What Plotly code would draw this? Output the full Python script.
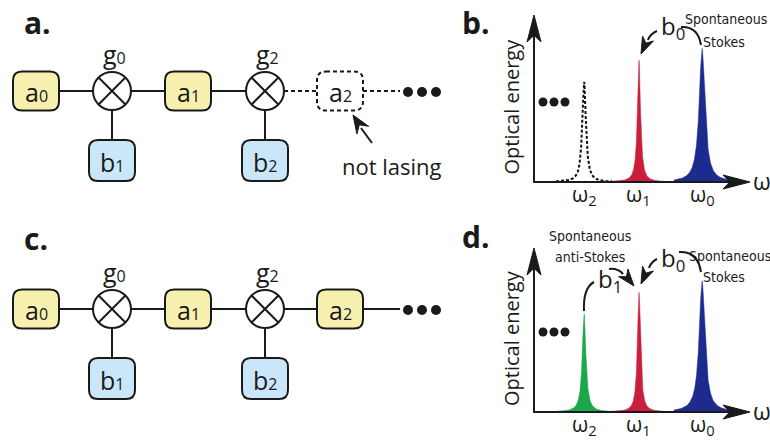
import numpy as np
import plotly.graph_objects as go

W, H = 770, 441

# ---------------- data ----------------
panel_labels = ["a.", "b.", "c.", "d."]
optical_idx = ["0", "1", "2"]          # a0, a1, a2
phonon_idx = ["1", "2"]                # b1, b2
coupling_idx = ["0", "2"]              # g0, g2
freq_sub = ["2", "1", "0"]             # omega subscripts, left to right
freq_pos = [0.232, 0.486, 0.778]       # position along frequency axis (fraction)
height_b = [0.60, 0.73, 0.80]          # panel b peak heights (fraction of axis)
height_d = [0.60, 0.73, 0.80]          # panel d peak heights
peak_hwhm = [0.010, 0.0085, 0.016]     # half widths
colors_b = ["#111111", "#c91f3d", "#1d2a8e"]
colors_d = ["#1ba84b", "#c91f3d", "#1d2a8e"]

# ---------------- styling / geometry ----------------
FONT = "Open Sans, Noto Sans, sans-serif"
NARROW = "Liberation Sans Narrow, DejaVu Sans Condensed, Roboto Condensed, sans-serif"
INK = "#1a1a1a"
YEL = "#f7f0ae"
BLU = "#c9e7f8"
LW = 2

box_cx = [36, 188, 340]
circ_cx = [112, 265]
BW, BH = 46, 39
BBH = 41
R = 19
ax_x0, ax_x1 = 534, 750
panels = {"b": (182, 15), "d": (412, 248)}   # baseline y, arrow tip y (pixels)

fig = go.Figure()
shapes = []
ann = []


def rrect(x0, y0, x1, y1, r=8):
    return (f"M{x0+r},{y0} L{x1-r},{y0} Q{x1},{y0} {x1},{y0+r} L{x1},{y1-r} "
            f"Q{x1},{y1} {x1-r},{y1} L{x0+r},{y1} Q{x0},{y1} {x0},{y1-r} "
            f"L{x0},{y0+r} Q{x0},{y0} {x0+r},{y0} Z")


def head(tx, ty, dx, dy, L=14, w=6, notch=0.7):
    n = np.hypot(dx, dy)
    dx, dy = dx / n, dy / n
    nx, ny = -dy, dx
    bx, by = tx - L * dx, ty - L * dy
    mx, my = tx - notch * L * dx, ty - notch * L * dy
    p = (f"M{tx},{ty} L{bx + w*nx},{by + w*ny} L{mx},{my} "
         f"L{bx - w*nx},{by - w*ny} Z")
    shapes.append(dict(type="path", path=p, xref="x", yref="y",
                       fillcolor=INK, line=dict(color=INK, width=1)))


def line(x0, y0, x1, y1, dash="solid", width=LW):
    shapes.append(dict(type="line", x0=x0, y0=y0, x1=x1, y1=y1, xref="x", yref="y",
                       line=dict(color=INK, width=width, dash=dash)))


def curve(p, width=LW):
    shapes.append(dict(type="path", path=p, xref="x", yref="y",
                       line=dict(color=INK, width=width)))


def text(x, y, s, size, font=FONT, xanchor="center", yanchor="middle", angle=0):
    ann.append(dict(x=x, y=y, xref="x", yref="y", text=s, showarrow=False,
                    xanchor=xanchor, yanchor=yanchor, textangle=angle,
                    font=dict(family=font, size=size, color=INK)))


def chain(yc, lasing):
    yb = yc + 69.5
    # connectors
    line(box_cx[0] + BW / 2, yc, circ_cx[0] - R, yc)
    line(circ_cx[0] + R, yc, box_cx[1] - BW / 2, yc)
    line(box_cx[1] + BW / 2, yc, circ_cx[1] - R, yc)
    d = "solid" if lasing else "4px,3px"
    line(circ_cx[1] + R, yc, box_cx[2] - BW / 2, yc, dash=d)
    line(box_cx[2] + BW / 2, yc, 400, yc, dash=d)
    for cx in circ_cx:
        line(cx, yc + R, cx, yb - BBH / 2)
    # optical mode boxes
    for i, cx in enumerate(box_cx):
        dashed = (i == 2 and not lasing)
        shapes.append(dict(type="path", xref="x", yref="y",
                           path=rrect(cx - BW / 2, yc - BH / 2, cx + BW / 2, yc + BH / 2, 9),
                           fillcolor="white" if dashed else YEL,
                           line=dict(color=INK, width=LW, dash="4px,3px" if dashed else "solid")))
        text(cx, yc + 1, f"a<span style='font-size:16px'>{optical_idx[i]}</span>", 25)
    # coupling circles
    for j, cx in enumerate(circ_cx):
        shapes.append(dict(type="circle", xref="x", yref="y", x0=cx - R, x1=cx + R,
                           y0=yc - R, y1=yc + R, fillcolor="white",
                           line=dict(color=INK, width=LW)))
        k = R * 0.707
        line(cx - k, yc - k, cx + k, yc + k)
        line(cx - k, yc + k, cx + k, yc - k)
        text(cx + 2, yc - 37, f"g<span style='font-size:16px'>{coupling_idx[j]}</span>", 25)
        # phonon boxes
        shapes.append(dict(type="path", xref="x", yref="y",
                           path=rrect(cx - BW / 2, yb - BBH / 2, cx + BW / 2, yb + BBH / 2, 9),
                           fillcolor=BLU, line=dict(color=INK, width=LW)))
        text(cx, yb + 1, f"b<span style='font-size:16px'>{phonon_idx[j]}</span>", 25)
    fig.add_trace(go.Scatter(x=[408, 422, 436], y=[yc + 1] * 3, mode="markers",
                             marker=dict(size=10, color=INK), xaxis="x", yaxis="y",
                             hoverinfo="skip", showlegend=False))


# ---- panels a and c ----
chain(91, lasing=False)
chain(309, lasing=True)
text(22, 22, "<b>a.</b>", 30, xanchor="left")
text(22, 238, "<b>c.</b>", 30, xanchor="left")
text(392, 166, "not lasing", 22)
line(372, 143, 361, 128)
head(353, 115, -0.55, -0.85, L=18, w=7, notch=0.65)

# ---- spectra panels b and d ----
for key, xa, ya, heights, cols in (("b", "x2", "y2", height_b, colors_b),
                                   ("d", "x3", "y3", height_d, colors_d)):
    base, tip = panels[key]
    for c, h, g, col, i in zip(freq_pos, heights, peak_hwhm, cols, range(3)):
        xs = np.linspace(max(c - 0.13, 0.0), c + 0.13, 600)
        ys = h * g ** 2 / ((xs - c) ** 2 + g ** 2)
        dashed = (key == "b" and i == 0)
        fig.add_trace(go.Scatter(
            x=xs, y=ys, xaxis=xa, yaxis=ya, mode="lines",
            line=dict(color=col, width=2 if dashed else 0.5, dash="3px,2px" if dashed else "solid"),
            fill=None if dashed else "tozeroy", fillcolor=col,
            hoverinfo="skip", showlegend=False))
        px = ax_x0 + c * (ax_x1 - ax_x0)
        text(px, base + 13, f"ω<sub>{freq_sub[i]}</sub>", 21, yanchor="middle")
    # axes with arrows
    line(ax_x0, base, ax_x0, tip + 20)
    line(ax_x0 - 1, base, ax_x1 - 20, base)
    head(ax_x0, tip, 0, -1, L=27, w=7, notch=0.75)
    head(ax_x1, base, 1, 0, L=27, w=7, notch=0.75)
    text(762, base - 1, "ω", 23)
    text(511, (base + tip) / 2 + 8, "Optical energy", 20, angle=-90)
    fig.add_trace(go.Scatter(x=[543, 554, 565], y=[base - 80] * 3, mode="markers",
                             marker=dict(size=9, color=INK), xaxis="x", yaxis="y",
                             hoverinfo="skip", showlegend=False))

# panel b annotations
text(460, 22, "<b>b.</b>", 30, xanchor="left")
text(659, 27, "b<sub>0</sub>", 24, xanchor="left")
text(726, 19, "Spontaneous", 14, font=NARROW)
text(724, 42, "Stokes", 14, font=NARROW)
curve("M657,31 Q650,34 648,40")
head(641, 54, -0.45, 1, L=17, w=6, notch=0.7)
curve("M681,27 Q698,26 701,45")

# panel d annotations
text(460, 236, "<b>d.</b>", 30, xanchor="left")
text(590, 236, "Spontaneous", 14, font=NARROW)
text(590, 257, "anti-Stokes", 14, font=NARROW)
text(596, 280, "b<sub>1</sub>", 24, xanchor="left")
text(659, 259, "b<sub>0</sub>", 24, xanchor="left")
text(730, 256, "Spontaneous", 14, font=NARROW)
text(724, 277, "Stokes", 14, font=NARROW)
curve("M584,311 Q583,288 594,282")
curve("M609,269 Q618,268 623,274")
head(634, 286, 0.65, 0.8, L=17, w=6, notch=0.7)
curve("M657,259 Q651,262 649,268")
head(641, 284, -0.45, 1, L=17, w=6, notch=0.7)
curve("M679,252 Q698,251 701,272")

# ---------------- layout ----------------
def dom(py0, py1):
    return [1 - py1 / H, 1 - py0 / H]

hidden = dict(visible=False, showgrid=False, zeroline=False)
fig.update_layout(
    width=W, height=H, autosize=False,
    margin=dict(l=0, r=0, t=0, b=0),
    paper_bgcolor="white", plot_bgcolor="rgba(0,0,0,0)",
    showlegend=False,
    xaxis=dict(range=[0, W], domain=[0, 1], **hidden),
    yaxis=dict(range=[H, 0], domain=[0, 1], **hidden),
    xaxis2=dict(range=[0, 1], domain=[ax_x0 / W, ax_x1 / W], anchor="y2", **hidden),
    yaxis2=dict(range=[0, 1], domain=dom(panels["b"][1], panels["b"][0]), anchor="x2", **hidden),
    xaxis3=dict(range=[0, 1], domain=[ax_x0 / W, ax_x1 / W], anchor="y3", **hidden),
    yaxis3=dict(range=[0, 1], domain=dom(panels["d"][1], panels["d"][0]), anchor="x3", **hidden),
    shapes=shapes, annotations=ann,
)

fig.write_html("out.html", config=dict(displayModeBar=False))
